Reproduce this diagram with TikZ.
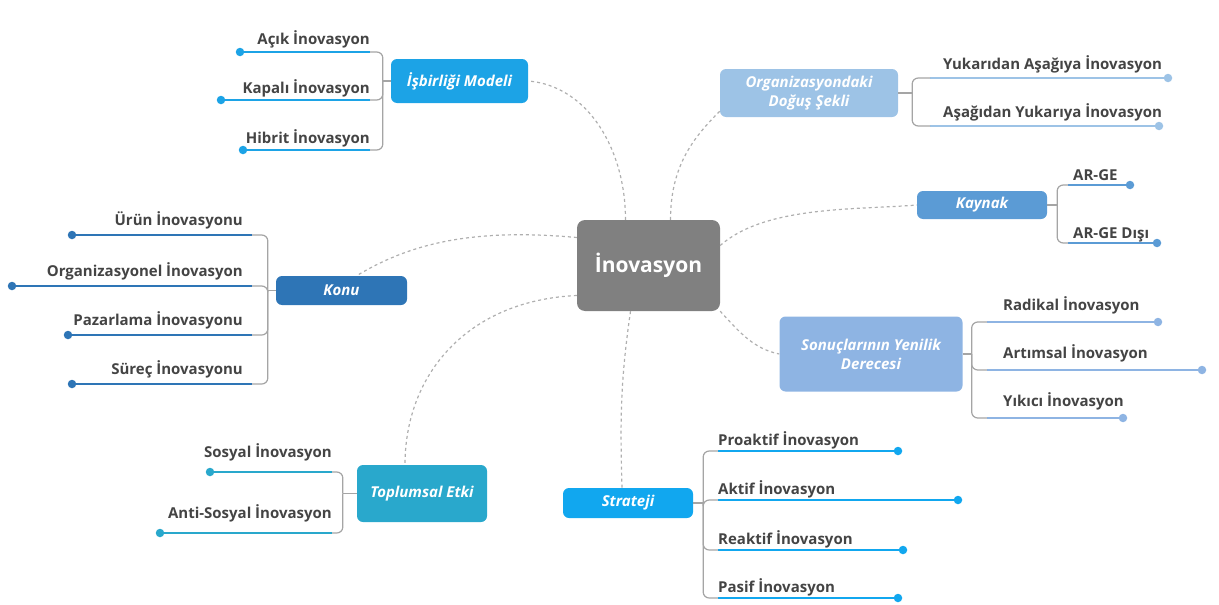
\documentclass[tikz,border=0pt]{standalone}
\usepackage{fontspec}
\setmainfont{Open Sans}
\definecolor{hubgray}{RGB}{128,128,128}
\definecolor{textgray}{RGB}{68,68,68}
\definecolor{brgray}{RGB}{165,165,165}
\definecolor{linkgray}{RGB}{175,175,175}
\definecolor{isbc}{RGB}{28,163,230}
\definecolor{orgc}{RGB}{157,195,230}
\definecolor{kayc}{RGB}{91,155,213}
\definecolor{sonc}{RGB}{142,180,227}
\definecolor{strc}{RGB}{17,167,239}
\definecolor{topc}{RGB}{41,168,204}
\definecolor{konc}{RGB}{46,117,182}
\newcommand\leaffont{\fontsize{15}{18}\selectfont\bfseries}
\newcommand\leaf[5]{% name, x at bracket side, y, x of dot, text
  \coordinate (#1) at (#2,#3);
  \node[dot] (#1-dot) at (#4,#3) {};
  \draw[leafline] (#1) -- (#1-dot);
  \node[leaftext] (#1-txt) at (#1) {#5};
}

\begin{document}
\begin{tikzpicture}[x=1pt,y=-1pt,
    hub/.style={fill=hubgray, rounded corners=8pt, text=white,
                font={\fontsize{21}{24}\selectfont\bfseries},
                minimum width=143pt, minimum height=91pt},
    topic/.style={fill=#1, rounded corners=6pt, text=white, align=center, inner sep=0pt,
                  font={\fontsize{15}{19}\selectfont\bfseries\itshape}},
    bracket/.style={draw=brgray, line width=1.2pt, rounded corners=6pt},
    leafline/.style={line width=2.8pt},
    dot/.style={circle, fill, inner sep=0pt, minimum size=8.5pt},
    leaftext/.style={font=\leaffont, text=textgray, inner sep=0pt},
    leftgroup/.style 2 args={leaftext/.append style={anchor=base east,xshift=#1,yshift=#2}},
    rightgroup/.style 2 args={leaftext/.append style={anchor=base west,xshift=#1,yshift=#2}},
    link/.style={draw=linkgray, line width=1.2pt, dash pattern=on 3pt off 3pt}]

  \useasboundingbox (0,0) rectangle (1219,605);

  \node[hub] (hub) at (648.5,265.5) {İnovasyon};

  \node[topic=isbc, minimum width=137pt, minimum height=44pt] (isb) at (459.5,81) {İşbirliği Modeli};
  \node[topic=orgc, minimum width=178pt, minimum height=48pt] (org) at (809,93) {Organizasyondaki\\Doğuş Şekli};
  \node[topic=kayc, minimum width=130pt, minimum height=28pt] (kay) at (982,205) {Kaynak};
  \node[topic=sonc, minimum width=183pt, minimum height=75pt] (son) at (871,354) {Sonuçlarının Yenilik\\Derecesi};
  \node[topic=strc, minimum width=130pt, minimum height=30pt] (str) at (628,503) {Strateji};
  \node[topic=topc, minimum width=130pt, minimum height=57pt] (top) at (422,493.5) {Toplumsal Etki};
  \node[topic=konc, minimum width=131pt, minimum height=29pt] (kon) at (341.5,290.5) {Konu};

  % dashed links from the hub
  \draw[link] ([xshift=-23pt]hub.north) .. controls +(0,-70) and +(60,5) .. (isb.east);
  \draw[link] ([xshift=22pt]hub.north) .. controls +(0,-55) and +(-25,25) .. ([yshift=6pt]org.south west);
  \draw[link] ([yshift=20pt]hub.east) .. controls +(45,-40) and +(-60,5) .. (kay.west);
  \draw[link] (hub.south east) .. controls +(20,22) and +(-25,-5) .. (son.west);
  \draw[link] ([xshift=-18pt]hub.south) .. controls +(-10,70) and +(-2,-70) .. ([xshift=-6pt]str.north);
  \draw[link] ([yshift=-30pt]hub.west) .. controls +(-110,5) and +(0,-90) .. ([xshift=-17pt]top.north);
  \draw[link] ([yshift=28pt]hub.west) .. controls +(-110,-10) and +(50,-30) .. ([xshift=15pt]kon.north);

  % İşbirliği Modeli
  \begin{scope}[isbc, leftgroup={0pt}{7pt}]
    \leaf{acik}{370}{52}{240}{Açık İnovasyon}
    \leaf{kapali}{370}{100}{221}{Kapalı İnovasyon}
    \leaf{hibrit}{370}{150}{243}{Hibrit İnovasyon}
    \coordinate (isb-br) at ([xshift=-8pt]isb.west);
    \draw[bracket] (isb.west) -- (isb-br);
    \foreach \l in {acik,kapali,hibrit} \draw[bracket] (isb-br) |- (\l);
  \end{scope}

  % Organizasyondaki Doğuş Şekli
  \begin{scope}[orgc, rightgroup={13pt}{9pt}]
    \leaf{yukari}{930}{78}{1168}{Yukarıdan Aşağıya İnovasyon}
    \leaf{asagi}{930}{126}{1159}{Aşağıdan Yukarıya İnovasyon}
    \coordinate (org-br) at ([xshift=14pt]org.east);
    \draw[bracket] (org.east) -- (org-br);
    \foreach \l in {yukari,asagi} \draw[bracket] (org-br) |- (\l);
  \end{scope}

  % Kaynak
  \begin{scope}[kayc, rightgroup={5pt}{5pt}]
    \leaf{arge}{1068}{185}{1130}{AR-GE}
    \leaf{argedisi}{1068}{243}{1157}{AR-GE Dışı}
    \coordinate (kay-br) at ([xshift=10pt]kay.east);
    \draw[bracket] (kay.east) -- (kay-br);
    \foreach \l in {arge,argedisi} \draw[bracket] (kay-br) |- (\l);
  \end{scope}

  % Sonuçlarının Yenilik Derecesi
  \begin{scope}[sonc, rightgroup={16pt}{12pt}]
    \leaf{radikal}{987}{322}{1158}{Radikal İnovasyon}
    \leaf{artimsal}{987}{370}{1202}{Artımsal İnovasyon}
    \leaf{yikici}{987}{418}{1123}{Yıkıcı İnovasyon}
    \coordinate (son-br) at ([xshift=9pt]son.east);
    \draw[bracket] (son.east) -- (son-br);
    \foreach \l in {radikal,artimsal,yikici} \draw[bracket] (son-br) |- (\l);
  \end{scope}

  % Strateji
  \begin{scope}[strc, rightgroup={0pt}{6pt}]
    \leaf{proaktif}{718}{451}{898}{Proaktif İnovasyon}
    \leaf{aktif}{718}{500}{958}{Aktif İnovasyon}
    \leaf{reaktif}{718}{550}{903}{Reaktif İnovasyon}
    \leaf{pasif}{718}{598}{898}{Pasif İnovasyon}
    \coordinate (str-br) at ([xshift=10pt]str.east);
    \draw[bracket] (str.east) -- (str-br);
    \foreach \l in {proaktif,aktif,reaktif,pasif} \draw[bracket] (str-br) |- (\l);
  \end{scope}

  % Toplumsal Etki
  \begin{scope}[topc, leftgroup={0pt}{15pt}]
    \leaf{sosyal}{332}{472}{210}{Sosyal İnovasyon}
    \leaf{antisosyal}{332}{533}{160}{Anti-Sosyal İnovasyon}
    \coordinate (top-br) at ([xshift=-14pt]top.west);
    \draw[bracket] (top.west) -- (top-br);
    \foreach \l in {sosyal,antisosyal} \draw[bracket] (top-br) |- (\l);
  \end{scope}

  % Konu
  \begin{scope}[konc, leftgroup={-9pt}{10pt}]
    \leaf{urun}{252}{235}{72}{Ürün İnovasyonu}
    \leaf{orgin}{252}{286}{12}{Organizasyonel İnovasyon}
    \leaf{pazar}{252}{335}{68}{Pazarlama İnovasyonu}
    \leaf{surec}{252}{384}{72}{Süreç İnovasyonu}
    \coordinate (kon-br) at ([xshift=-8pt]kon.west);
    \draw[bracket] (kon.west) -- (kon-br);
    \foreach \l in {urun,orgin,pazar,surec} \draw[bracket] (kon-br) |- (\l);
  \end{scope}

\end{tikzpicture}
\end{document}
